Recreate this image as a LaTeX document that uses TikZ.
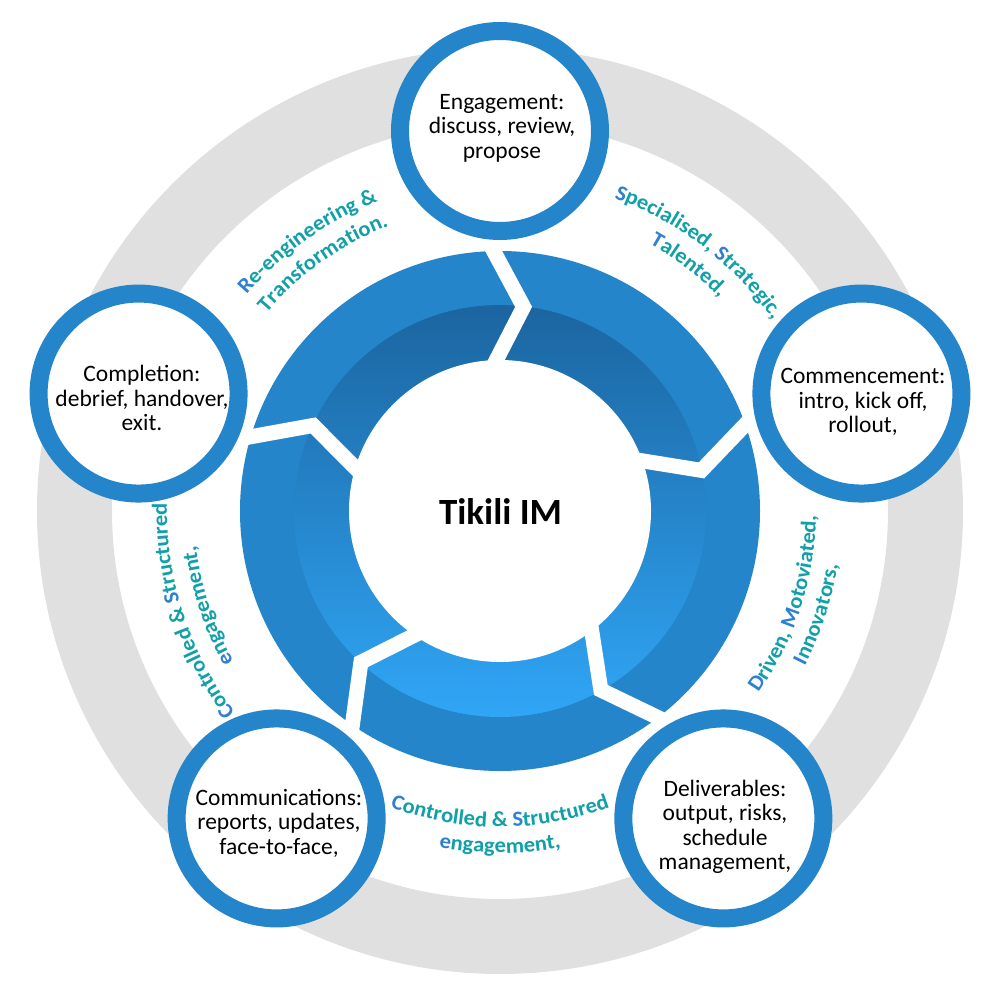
\documentclass[tikz,border=0pt]{standalone}
\usepackage{fontspec}
\setmainfont{Carlito}
\newfontfamily\lblfont{Carlito}[FakeStretch=1.05]
\usetikzlibrary{decorations.text,calc}
\definecolor{ringblue}{HTML}{2485CA}
\definecolor{ringgray}{HTML}{E0E0E0}
\definecolor{bandtop}{HTML}{1B65A0}
\definecolor{bandbot}{HTML}{30A6F6}
\definecolor{lblteal}{HTML}{12A0A8}
\definecolor{lblblue}{HTML}{2E80D2}
\newcommand\lblT{\lblfont\bfseries\fontsize{21.5}{25}\selectfont\color{lblteal}}
\newcommand\lblB{\lblfont\bfseries\fontsize{21.5}{25}\selectfont\color{lblblue}}
\begin{document}
\begin{tikzpicture}[x=1pt,y=1pt,
  stage/.style={circle, draw=ringblue, line width=18pt, fill=white, minimum size=200pt, inner sep=0pt},
  stagetext/.style={align=center, font=\fontsize{23.5}{24.5}\selectfont, text=black, inner sep=0pt},
  gapline/.style={draw=white, line width=15pt, line join=miter, miter limit=20},
  arclabel/.style={decorate, decoration={text along path, text align=center, text={#1}}}
  ]
\useasboundingbox[fill=white] (-500,-489) rectangle (500,511);
% outer gray ring
\draw[ringgray, line width=75pt] (0,0) circle[radius=425.5];
% central cycle ring
\fill[ringblue] (0,0) circle[radius=260];
\shade[top color=bandtop, bottom color=bandbot] (0,0) circle[radius=206];
\fill[white] (0,0) circle[radius=151];
% chevron gaps between the five arrow segments
\foreach \g in {163.4, 91.4, 19.4, -52.6, -124.6} {
  \coordinate (tip) at (\g-8:205.5);
  \draw[gapline] ($(tip)!1.2!(\g:260)$) -- (tip) -- ($(tip)!1.15!(\g:151)$);
}
% hub text
\node[font=\bfseries\fontsize{37}{40}\selectfont, inner sep=0pt] (hub) at (0.5,-1) {Tikili IM};
% stage circles
\node[stage] (engage) at (90:380) {};
\node[stage] (commence) at (18:380) {};
\node[stage] (deliver) at (-54:380) {};
\node[stage] (comms) at (-126:380) {};
\node[stage] (complete) at (162:380) {};
\node[stagetext] (engageT) at (2,383) {Engagement:\\discuss, review,\\propose};
\node[stagetext] (commenceT) at (363,109) {Commencement:\\intro, kick off,\\rollout,};
\node[stagetext] (deliverT) at (225,-316) {Deliverables:\\output, risks,\\schedule\\management,};
\node[stagetext] (commsT) at (-221,-312) {Communications:\\reports, updates,\\face-to-face,};
\node[stagetext] (completeT) at (-358,113) {Completion:\\debrief, handover,\\exit.};
% curved labels
\path[arclabel={|\lblB|R|\lblT|e-engineering {\&}}] (165.5:333) arc[start angle=165.5, end angle=85.5, radius=333];
\path[arclabel={|\lblT|Transformation.}] (165.5:306) arc[start angle=165.5, end angle=85.5, radius=306];
\path[arclabel={|\lblB|S|\lblT|pecialised, |\lblB|S|\lblT|trategic,}] (92.5:333) arc[start angle=92.5, end angle=12.5, radius=333];
\path[arclabel={|\lblB|T|\lblT|alented,}] (92.5:306) arc[start angle=92.5, end angle=12.5, radius=306];
\path[arclabel={|\lblB|D|\lblT|riven, |\lblB|M|\lblT|otoviated,}] (-58:316) arc[start angle=-58, end angle=22, radius=316];
\path[arclabel={|\lblB|I|\lblT|nnovators,}] (-58:342) arc[start angle=-58, end angle=22, radius=342];
\path[arclabel={|\lblB|C|\lblT|ontrolled {\&} |\lblB|S|\lblT|tructured}] (-130:316) arc[start angle=-130, end angle=-50, radius=316];
\path[arclabel={|\lblB|e|\lblT|ngagement,}] (-130:342) arc[start angle=-130, end angle=-50, radius=342];
\path[arclabel={|\lblB|C|\lblT|ontrolled {\&} |\lblB|S|\lblT|tructured}] (238:333) arc[start angle=238, end angle=158, radius=333];
\path[arclabel={|\lblB|e|\lblT|ngagement,}] (238:306) arc[start angle=238, end angle=158, radius=306];
\end{tikzpicture}
\end{document}
